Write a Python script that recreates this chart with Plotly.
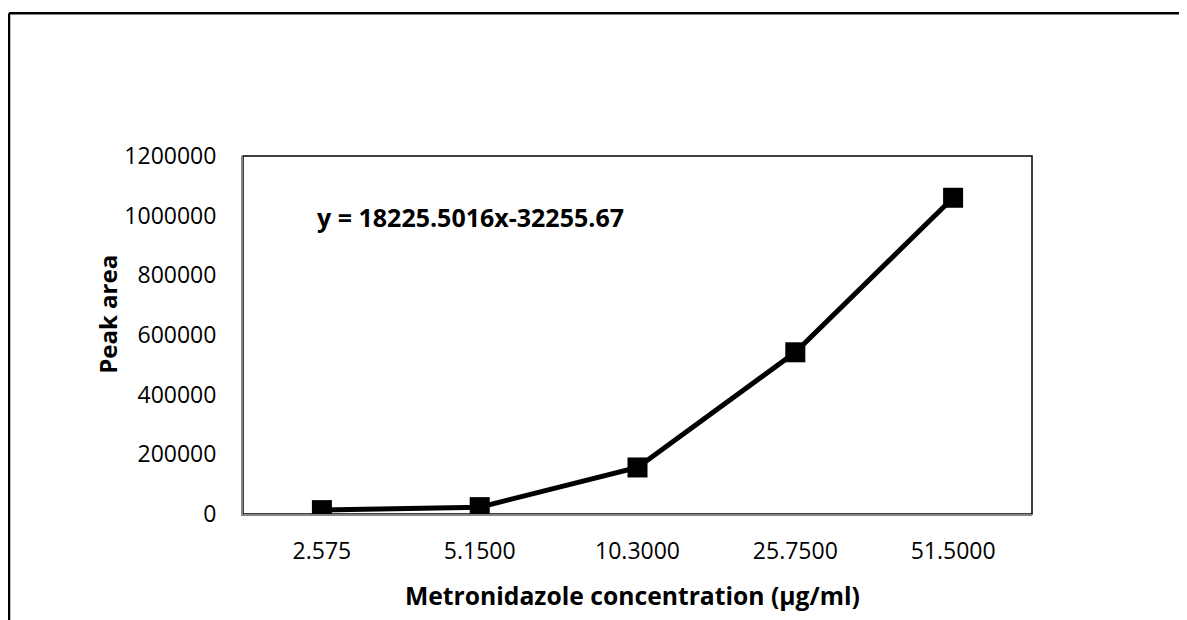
import plotly.graph_objects as go

categories = ["2.575", "5.1500", "10.3000", "25.7500", "51.5000"]
peak_area = [13000, 23000, 156000, 542000, 1060000]
y_ticks = [0, 200000, 400000, 600000, 800000, 1000000, 1200000]
equation = "y = 18225.5016x-32255.67"
x_title = "Metronidazole concentration (µg/ml)"
y_title = "Peak area"

# page body adds an 8px offset; work in reference pixels and subtract it
OFF = 8
W, H = 1187 - OFF, 620 - OFF
L, R, T, B = 243 - OFF, 1032 - OFF, 156 - OFF, 514.5 - OFF

def px(x):
    return (x - OFF - L) / (R - L)

def py(y):
    return (B - (y - OFF)) / (B - T)

FONT = "Open Sans"

fig = go.Figure()
fig.add_trace(go.Scatter(
    x=categories, y=peak_area, mode="lines+markers",
    line=dict(color="black", width=5),
    marker=dict(symbol="square", size=20, color="black"),
    showlegend=False, hoverinfo="x+y",
))

fig.update_layout(
    width=W, height=H,
    margin=dict(l=L, r=W - R, t=T, b=H - B, pad=0),
    paper_bgcolor="white", plot_bgcolor="white",
    font=dict(family=FONT, color="black", size=23),
    xaxis=dict(
        type="category", showgrid=False, zeroline=False,
        showline=True, linecolor="#868686", linewidth=2,
        ticks="", ticklabelstandoff=15,
        tickfont=dict(family=FONT, size=23, color="black"),
        range=[-0.5, 4.5], fixedrange=True,
    ),
    yaxis=dict(
        range=[0, 1200000], tickvals=y_ticks,
        ticktext=[str(v) for v in y_ticks],
        showgrid=False, zeroline=False,
        showline=True, linecolor="#868686", linewidth=2,
        ticks="", ticklabelstandoff=20,
        tickfont=dict(family=FONT, size=23, color="black"),
        fixedrange=True,
    ),
    shapes=[
        dict(type="rect", xref="paper", yref="paper", x0=0, y0=0, x1=1, y1=1,
             line=dict(color="#000000", width=1.5), layer="below"),
        dict(type="line", xref="paper", yref="paper",
             x0=px(9), y0=py(13), x1=px(9), y1=py(700),
             line=dict(color="black", width=2.5)),
        dict(type="line", xref="paper", yref="paper",
             x0=px(9), y0=py(13), x1=px(1300), y1=py(13),
             line=dict(color="black", width=2.5)),
    ],
    annotations=[
        dict(text="<b>" + equation + "</b>", xref="paper", yref="paper",
             x=px(470), y=py(217), xanchor="center", yanchor="middle",
             showarrow=False, font=dict(family=FONT, size=25, color="black")),
        dict(text="<b>" + x_title + "</b>", xref="paper", yref="paper",
             x=px(632), y=py(596), xanchor="center", yanchor="middle",
             showarrow=False, font=dict(family=FONT, size=24.7, color="black")),
        dict(text="<b>" + y_title + "</b>", xref="paper", yref="paper",
             x=px(108), y=py(315), xanchor="center", yanchor="middle",
             textangle=-90, showarrow=False,
             font=dict(family=FONT, size=24, color="black")),
    ],
)

fig.write_html("out.html")
